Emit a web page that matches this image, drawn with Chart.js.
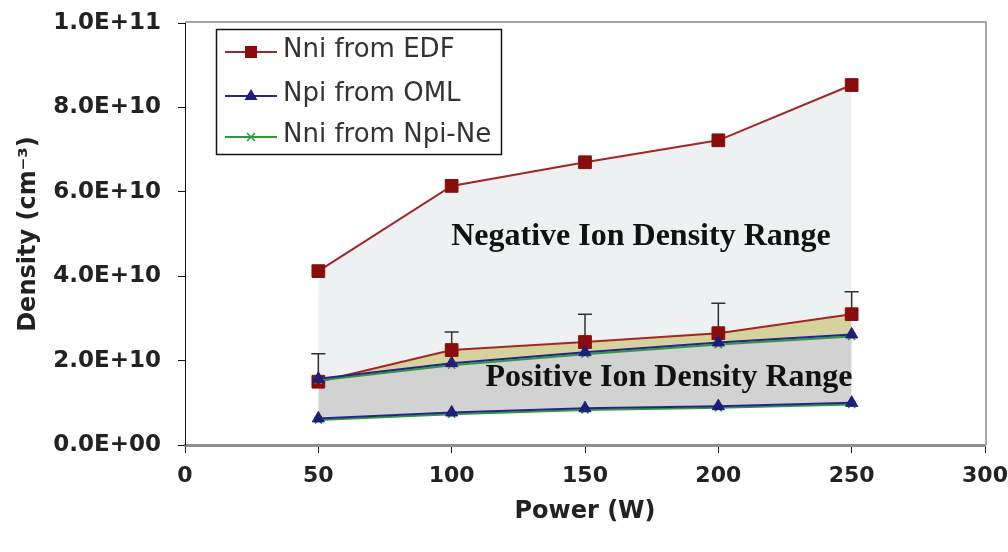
<!DOCTYPE html>
<html>
<head>
<meta charset="utf-8">
<script src="https://cdn.jsdelivr.net/npm/chart.js@4.4.1/dist/chart.umd.min.js"></script>
<style>
  html, body { margin: 0; padding: 0; background: #ffffff; }
  #wrap { width: 1008px; height: 552px; position: relative; }
</style>
</head>
<body>
<div id="wrap"><canvas id="chart" width="1008" height="552"></canvas></div>
<script>
// Discharge power (W)
const powers = [50, 100, 150, 200, 250];

// Negative ion density from the electron distribution function (upper / lower estimate), cm^-3
const edfHigh = [4.12e10, 6.14e10, 6.70e10, 7.22e10, 8.53e10];
const edfLow = [1.50e10, 2.25e10, 2.44e10, 2.65e10, 3.10e10];
// top of the error bar on the lower estimate
const edfLowErrTop = [2.16e10, 2.68e10, 3.10e10, 3.36e10, 3.63e10];

// Positive ion density from OML theory (upper / lower)
const omlHigh = [1.57e10, 1.94e10, 2.20e10, 2.43e10, 2.62e10];
const omlLow = [0.63e10, 0.77e10, 0.87e10, 0.92e10, 1.00e10];

// Negative ion density from Npi - Ne (upper / lower)
const npiNeHigh = [1.53e10, 1.89e10, 2.15e10, 2.38e10, 2.57e10];
const npiNeLow = [0.59e10, 0.73e10, 0.83e10, 0.88e10, 0.96e10];

const yTicks = [0, 2e10, 4e10, 6e10, 8e10, 1e11];
const xTicks = [0, 50, 100, 150, 200, 250, 300];
const seriesNames = ['Nni from EDF', 'Npi from OML', 'Nni from Npi-Ne'];
const rangeLabels = ['Negative Ion Density Range', 'Positive Ion Density Range'];

const RED = '#a32626', RED_PT = '#8a0c0c';
const BLUE = '#24248e', BLUE_PT = '#1d1d7a';
const GREEN = '#2f9a3a';
const FILL_NEG = '#eef1f2', FILL_MID = '#d6d29e', FILL_POS = '#d2d2d2';

const pts = arr => powers.map((p, i) => ({ x: p, y: arr[i] }));

function fmtExp(v) {
  if (v === 0) return '0.0E+00';
  const e = Math.floor(Math.log10(Math.abs(v)) + 1e-9);
  const m = v / Math.pow(10, e);
  const sign = e < 0 ? '-' : '+';
  return m.toFixed(1) + 'E' + sign + String(Math.abs(e)).padStart(2, '0');
}

// Error bars on the lower EDF estimate, region labels (drawn after the fills, under the lines)
const underlay = {
  id: 'underlay',
  beforeDatasetsDraw(chart) {
    const { ctx, scales: { x, y } } = chart;
    ctx.save();
    ctx.strokeStyle = '#303030';
    ctx.lineWidth = 1.5;
    powers.forEach((p, i) => {
      const px = x.getPixelForValue(p);
      const y0 = y.getPixelForValue(edfLow[i]);
      const y1 = y.getPixelForValue(edfLowErrTop[i]);
      ctx.beginPath();
      ctx.moveTo(px, y0);
      ctx.lineTo(px, y1);
      ctx.moveTo(px - 7, y1);
      ctx.lineTo(px + 7, y1);
      ctx.stroke();
    });

    ctx.fillStyle = '#111';
    ctx.font = 'bold 32px "Liberation Serif", "DejaVu Serif", serif';
    ctx.textAlign = 'center';
    ctx.textBaseline = 'middle';
    ctx.fillText(rangeLabels[0], x.getPixelForValue(171), y.getPixelForValue(4.93e10));
    ctx.fillText(rangeLabels[1], x.getPixelForValue(181.5), y.getPixelForValue(1.6e10));
    ctx.restore();
  }
};

// Plot frame and boxed legend
const overlay = {
  id: 'overlay',
  afterDraw(chart) {
    const { ctx, chartArea: a } = chart;
    ctx.save();
    ctx.strokeStyle = '#a6a6a6';
    ctx.lineWidth = 2;
    ctx.beginPath();
    ctx.moveTo(a.left, a.top - 1);
    ctx.lineTo(a.right + 1, a.top - 1);
    ctx.lineTo(a.right + 1, a.bottom);
    ctx.stroke();

    const bx = 216.5, by = 29.5, bw = 285, bh = 125;
    ctx.fillStyle = '#ffffff';
    ctx.fillRect(bx, by, bw, bh);
    ctx.strokeStyle = '#111';
    ctx.lineWidth = 1.5;
    ctx.strokeRect(bx, by, bw, bh);
    const rows = [52, 96, 137];
    const colors = [RED, BLUE, GREEN];
    rows.forEach((ry, i) => {
      ctx.strokeStyle = colors[i];
      ctx.lineWidth = 2;
      ctx.beginPath();
      ctx.moveTo(225, ry);
      ctx.lineTo(277, ry);
      ctx.stroke();
      if (i === 0) {
        ctx.fillStyle = RED_PT;
        ctx.fillRect(245, ry - 6, 12, 12);
      } else if (i === 1) {
        ctx.fillStyle = BLUE_PT;
        ctx.beginPath();
        ctx.moveTo(251, ry - 7);
        ctx.lineTo(257.5, ry + 4);
        ctx.lineTo(244.5, ry + 4);
        ctx.closePath();
        ctx.fill();
      } else {
        ctx.strokeStyle = GREEN;
        ctx.lineWidth = 1.5;
        ctx.beginPath();
        ctx.moveTo(247, ry - 4); ctx.lineTo(255, ry + 4);
        ctx.moveTo(255, ry - 4); ctx.lineTo(247, ry + 4);
        ctx.stroke();
      }
      ctx.fillStyle = '#333';
      ctx.font = '26px "DejaVu Sans", sans-serif';
      ctx.textAlign = 'left';
      ctx.textBaseline = 'middle';
      ctx.fillText(seriesNames[i], 283, ry - 2);
    });
    ctx.restore();
  }
};

const lineDs = (label, arr, color, ptColor, style, radius, extra) => Object.assign({
  label,
  data: pts(arr),
  borderColor: color,
  borderWidth: 2,
  pointStyle: style,
  pointRadius: radius,
  pointBackgroundColor: ptColor,
  pointBorderColor: ptColor,
  pointBorderWidth: style === 'crossRot' ? 1.5 : 1,
  tension: 0,
  fill: false
}, extra || {});

new Chart(document.getElementById('chart'), {
  type: 'line',
  data: {
    datasets: [
      lineDs('Npi from OML', omlHigh, BLUE, BLUE_PT, 'triangle', 7, { fill: { target: 1 }, backgroundColor: FILL_POS }),
      lineDs('Npi from OML', omlLow, BLUE, BLUE_PT, 'triangle', 7),
      lineDs('Nni from Npi-Ne', npiNeHigh, GREEN, GREEN, 'crossRot', 5),
      lineDs('Nni from Npi-Ne', npiNeLow, GREEN, GREEN, 'crossRot', 5),
      lineDs('Nni from EDF', edfHigh, RED, RED_PT, 'rect', 9, { fill: { target: 5 }, backgroundColor: FILL_NEG }),
      lineDs('Nni from EDF', edfLow, RED, RED_PT, 'rect', 9, { fill: { target: 0, above: FILL_MID, below: FILL_NEG } })
    ]
  },
  options: {
    responsive: false,
    animation: false,
    devicePixelRatio: 1,
    layout: { padding: { top: 23, right: 23, left: 0, bottom: 0 } },
    plugins: {
      legend: { display: false },
      tooltip: { enabled: false },
      filler: { propagate: false, drawTime: 'beforeDatasetsDraw' }
    },
    scales: {
      x: {
        type: 'linear',
        min: 0,
        max: 300,
        afterBuildTicks(scale) { scale.ticks = xTicks.map(v => ({ value: v })); },
        afterFit(scale) { scale.height = 107; scale.paddingRight = 8; },
        grid: { drawOnChartArea: false, tickLength: 8, tickColor: '#111', tickWidth: 1 },
        border: { color: '#8f8f8f', width: 3 },
        ticks: {
          color: '#222',
          padding: 10,
          maxRotation: 0,
          font: { family: '"DejaVu Sans", sans-serif', size: 22, weight: 'bold' }
        },
        title: {
          display: true,
          text: 'Power (W)',
          color: '#222',
          padding: { top: 0, bottom: 26 },
          font: { family: '"DejaVu Sans", sans-serif', size: 24, weight: 'bold' }
        }
      },
      y: {
        min: 0,
        max: 1e11,
        afterBuildTicks(scale) { scale.ticks = yTicks.map(v => ({ value: v })); },
        afterFit(scale) { scale.width = 185; scale.paddingTop = 8; },
        grid: { drawOnChartArea: false, tickLength: 7, tickColor: '#111', tickWidth: 1 },
        border: { color: '#111', width: 1 },
        ticks: {
          color: '#222',
          padding: 17,
          callback: v => fmtExp(v),
          font: { family: '"DejaVu Sans", sans-serif', size: 23, weight: 'bold' }
        },
        title: {
          display: true,
          text: 'Density (cm\u207B\u00B3)',
          color: '#222',
          padding: { top: 14, bottom: 0 },
          font: { family: '"DejaVu Sans", sans-serif', size: 24, weight: 'bold' }
        }
      }
    }
  },
  plugins: [underlay, overlay]
});
</script>
</body>
</html>
